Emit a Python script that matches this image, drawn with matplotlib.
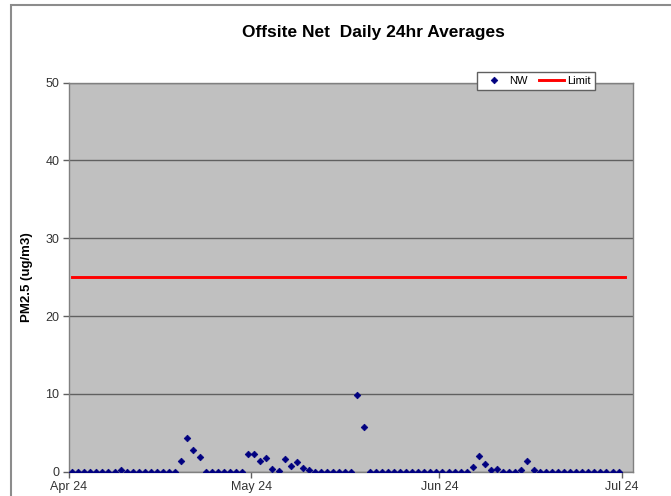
import matplotlib
matplotlib.use("Agg")
import matplotlib.pyplot as plt
import matplotlib.dates as mdates
import pandas as pd
from matplotlib.patches import Rectangle

plt.rcParams["font.family"] = ["Liberation Sans", "DejaVu Sans"]

# daily PM2.5 averages (ug/m3), station NW
nw_april = [0.0, 0.0, 0.0, 0.0, 0.0, 0.0, 0.0, 0.0, 0.2, 0.0,
            0.0, 0.0, 0.0, 0.0, 0.0, 0.0, 0.0, 0.0, 1.4, 4.3,
            2.8, 1.9, 0.0, 0.0, 0.0, 0.0, 0.0, 0.0, 0.0, 2.3]
nw_may = [2.3, 1.4, 1.8, 0.35, 0.1, 1.6, 0.7, 1.3, 0.5, 0.2,
          0.0, 0.0, 0.0, 0.0, 0.0, 0.0, 0.0, 9.9, 5.7, 0.0,
          0.0, 0.0, 0.0, 0.0, 0.0, 0.0, 0.0, 0.0, 0.0, 0.0, 0.0]
nw_june = [0.0, 0.0, 0.0, 0.0, 0.0, 0.6, 2.0, 1.0, 0.2, 0.4,
           0.0, 0.0, 0.0, 0.2, 1.4, 0.25, 0.0, 0.0, 0.0, 0.0,
           0.0, 0.0, 0.0, 0.0, 0.0, 0.0, 0.0, 0.0, 0.0, 0.0]
limit_value = 25
start_date = "2024-04-01"
limit_end = "2024-07-01"
axis_end = "2024-07-02 19:00"
tick_dates = ["2024-04-01", "2024-05-01", "2024-06-01", "2024-07-01"]
y_ticks = [0, 10, 20, 30, 40, 50]

nw_values = nw_april + nw_may + nw_june
nw_dates = pd.date_range(start_date, periods=len(nw_values), freq="D") + pd.Timedelta(hours=12)
limit_dates = pd.date_range(start_date, limit_end, freq="D") + pd.Timedelta(hours=12)

fig = plt.figure(figsize=(6.71, 4.96), dpi=100)
fig.patch.set_facecolor("white")

# chart area border (cropped on right / bottom)
fig.patches.append(Rectangle((10.5 / 671, -0.1), 1.2, 1.1 - 5.5 / 496,
                             transform=fig.transFigure, fill=False,
                             edgecolor="#8c8c8c", linewidth=1.5))

ax = fig.add_axes([69 / 671, 1 - 471.7 / 496, (632.5 - 69) / 671, (471.7 - 82.7) / 496])
ax.set_facecolor("#c0c0c0")

ax.plot(nw_dates, nw_values, linestyle="none", marker="D", markersize=3.4,
        markeredgewidth=0.5, color="#000080", label="NW", zorder=4)
ax.plot(limit_dates, [limit_value] * len(limit_dates), color="#ff0000",
        linewidth=2.1, label="Limit", zorder=3)

ax.set_xlim(pd.Timestamp(start_date), pd.Timestamp(axis_end))
ax.set_ylim(0, 50)
ax.set_yticks(y_ticks)
ax.set_xticks(pd.to_datetime(tick_dates))
ax.xaxis.set_major_formatter(mdates.DateFormatter("%b %y"))

ax.grid(axis="y", color="#606060", linewidth=1.0, zorder=1)
ax.set_axisbelow(True)
for side in ax.spines.values():
    side.set_color("#808080")
    side.set_linewidth(1.0)

ax.tick_params(axis="both", direction="out", length=4, width=1,
               color="#606060", labelsize=9, labelcolor="#333333", pad=3)

ax.set_ylabel("PM2.5 (ug/m3)", fontsize=9.5, fontweight="bold", labelpad=8.5)
fig.text(373 / 671, 1 - 33 / 496, "Offsite Net  Daily 24hr Averages",
         ha="center", va="center", fontsize=12.5, fontweight="bold")

leg = ax.legend(loc="upper left", bbox_to_anchor=((477 - 69) / 563.5, 1 + 10.5 / 389),
                ncol=2, fontsize=8, frameon=True, fancybox=False,
                handlelength=2.3, handletextpad=0.25, columnspacing=1.0,
                borderpad=0.35, borderaxespad=0)
leg.get_frame().set_edgecolor("#606060")
leg.get_frame().set_linewidth(1.0)
leg.get_frame().set_facecolor("white")
leg.get_frame().set_alpha(1.0)

fig.savefig("out.png", dpi=100)
